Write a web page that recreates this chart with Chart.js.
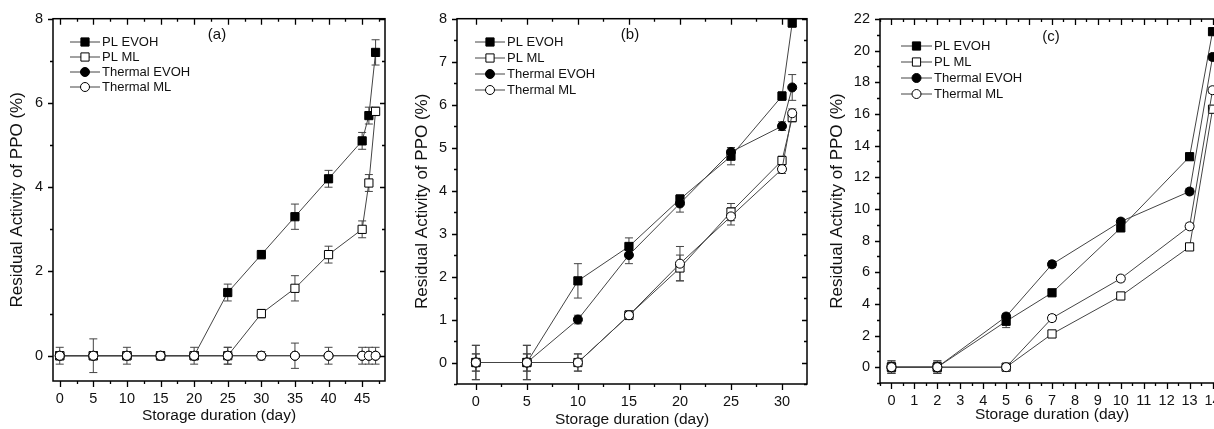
<!DOCTYPE html>
<html>
<head>
<meta charset="utf-8">
<script src="https://cdn.jsdelivr.net/npm/chart.js@4.4.0/dist/chart.umd.min.js"></script>
<style>
  html, body { margin: 0; padding: 0; background: #fff; overflow: hidden; width: 1214px; height: 429px; }
  .panel { position: absolute; top: 0; }
</style>
</head>
<body>
<div class="panel" style="left:0px"><canvas id="chartA" width="400" height="429"></canvas></div>
<div class="panel" style="left:405px"><canvas id="chartB" width="410" height="429"></canvas></div>
<div class="panel" style="left:820px"><canvas id="chartC" width="420" height="429"></canvas></div>
<script>
// ------------------- DATA -------------------
const seriesNames = ["PL EVOH", "PL ML", "Thermal EVOH", "Thermal ML"];

// panel (a)
const daysA = [0, 5, 10, 15, 20, 25, 30, 35, 40, 45, 46, 47];
const plEvohA     = [0, 0, 0, 0, 0, 1.5, 2.4, 3.3, 4.2, 5.1, 5.7, 7.2];
const plMlA       = [0, 0, 0, 0, 0, 0, 1.0, 1.6, 2.4, 3.0, 4.1, 5.8];
const thEvohA     = [0, 0, 0, 0, 0, 0, 0, 0, 0, 0, 0, 0];
const thMlA       = [0, 0, 0, 0, 0, 0, 0, 0, 0, 0, 0, 0];
const plEvohErrA  = [0, 0, 0, 0, 0, 0.2, 0.1, 0.3, 0.2, 0.2, 0.2, 0.3];
const plMlErrA    = [0, 0, 0, 0, 0, 0.2, 0.1, 0.3, 0.2, 0.2, 0.2, 0.1];
const thEvohErrA  = [0, 0, 0, 0, 0, 0, 0, 0, 0, 0, 0, 0];
const thMlErrA    = [0.2, 0.4, 0.2, 0.1, 0.2, 0.2, 0.1, 0.3, 0.2, 0.2, 0.2, 0.2];
const xTicksA = [0, 5, 10, 15, 20, 25, 30, 35, 40, 45];
const yTicksA = [0, 2, 4, 6, 8];

// panel (b)
const daysB = [0, 5, 10, 15, 20, 25, 30, 31];
const plEvohB     = [0, 0, 1.9, 2.7, 3.8, 4.8, 6.2, 7.9];
const plMlB       = [0, 0, 0, 1.1, 2.2, 3.5, 4.7, 5.7];
const thEvohB     = [0, 0, 1.0, 2.5, 3.7, 4.9, 5.5, 6.4];
const thMlB       = [0, 0, 0, 1.1, 2.3, 3.4, 4.5, 5.8];
const plEvohErrB  = [0.4, 0.4, 0.4, 0.2, 0.1, 0.2, 0.1, 0.1];
const plMlErrB    = [0.2, 0.2, 0.2, 0.1, 0.3, 0.2, 0.1, 0.1];
const thEvohErrB  = [0.2, 0.2, 0.1, 0.2, 0.2, 0.1, 0.1, 0.3];
const thMlErrB    = [0.4, 0.4, 0.2, 0.1, 0.4, 0.2, 0.1, 0.1];
const xTicksB = [0, 5, 10, 15, 20, 25, 30];
const yTicksB = [0, 1, 2, 3, 4, 5, 6, 7, 8];

// panel (c)
const daysC = [0, 2, 5, 7, 10, 13, 14];
const plEvohC     = [0, 0, 2.9, 4.7, 8.8, 13.3, 21.2];
const plMlC       = [0, 0, 0, 2.1, 4.5, 7.6, 16.3];
const thEvohC     = [0, 0, 3.2, 6.5, 9.2, 11.1, 19.6];
const thMlC       = [0, 0, 0, 3.1, 5.6, 8.9, 17.5];
const plEvohErrC  = [0.4, 0.4, 0.4, 0.2, 0.2, 0.2, 0.2];
const plMlErrC    = [0.3, 0.3, 0.2, 0.2, 0.2, 0.2, 0.2];
const thEvohErrC  = [0.3, 0.3, 0.2, 0.2, 0.2, 0.2, 0.2];
const thMlErrC    = [0.4, 0.4, 0.2, 0.2, 0.2, 0.2, 0.2];
const xTicksC = [0, 1, 2, 3, 4, 5, 6, 7, 8, 9, 10, 11, 12, 13, 14];
const yTicksC = [0, 2, 4, 6, 8, 10, 12, 14, 16, 18, 20, 22];

// ------------------- STYLE -------------------
Chart.defaults.font.family = "'Liberation Sans', Arial, sans-serif";
Chart.defaults.color = "#111";

const markerStyles = [
  { pointStyle: "rect",   radius: 5.8, fill: "#000" },
  { pointStyle: "rect",   radius: 5.8, fill: "#fff" },
  { pointStyle: "circle", radius: 4.5, fill: "#000" },
  { pointStyle: "circle", radius: 4.5, fill: "#fff" }
];
const drawOrder = [3, 2, 1, 0]; // thermal ML on top
const lineColor = "#444";

// ------------------- PLUGINS -------------------
// error bars, drawn under the markers
const errorBars = {
  id: "errorBars",
  beforeDatasetsDraw(chart) {
    const { ctx, scales: { x, y } } = chart;
    ctx.save();
    ctx.strokeStyle = "#444";
    ctx.lineWidth = 1;
    chart.data.datasets.forEach(ds => {
      ds.data.forEach((p, j) => {
        const e = ds.errors[j];
        if (!e) return;
        const px = x.getPixelForValue(p.x);
        const y1 = y.getPixelForValue(p.y + e);
        const y2 = y.getPixelForValue(p.y - e);
        ctx.beginPath();
        ctx.moveTo(px, y1); ctx.lineTo(px, y2);
        ctx.moveTo(px - 4, y1); ctx.lineTo(px + 4, y1);
        ctx.moveTo(px - 4, y2); ctx.lineTo(px + 4, y2);
        ctx.stroke();
      });
    });
    ctx.restore();
  }
};

function minorValues(ticks, min, max) {
  const step = ticks[1] - ticks[0];
  const out = [];
  for (let v = ticks[0] - step / 2; v <= max; v += step) {
    if (v >= min) out.push(v);
  }
  return out;
}

// box frame with outward ticks left/bottom and inward ticks top/right
const axisFrame = {
  id: "axisFrame",
  afterDraw(chart) {
    const { ctx, chartArea: { left, right, top, bottom }, scales: { x, y } } = chart;
    const xt = x.ticks.map(t => t.value);
    const yt = y.ticks.map(t => t.value);
    const xm = minorValues(xt, x.min, x.max);
    const ym = minorValues(yt, y.min, y.max);
    ctx.save();
    ctx.strokeStyle = "#000";
    ctx.lineWidth = 1.5;
    ctx.strokeRect(left, top, right - left, bottom - top);
    ctx.lineWidth = 1.3;
    ctx.beginPath();
    const vTick = (vals, len) => vals.forEach(v => {
      const px = Math.round(x.getPixelForValue(v)) + 0.5;
      ctx.moveTo(px, bottom); ctx.lineTo(px, bottom + len);
      ctx.moveTo(px, top); ctx.lineTo(px, top + len);
    });
    const hTick = (vals, len) => vals.forEach(v => {
      const py = Math.round(y.getPixelForValue(v)) + 0.5;
      ctx.moveTo(left, py); ctx.lineTo(left - len, py);
      ctx.moveTo(right, py); ctx.lineTo(right - len, py);
    });
    vTick(xt, 6); vTick(xm, 3);
    hTick(yt, 5); hTick(ym, 3);
    ctx.stroke();
    ctx.restore();
  }
};

// legend with line-marker-line samples and the panel letter
const sampleLegend = {
  id: "sampleLegend",
  afterDraw(chart, args, opts) {
    const { ctx } = chart;
    ctx.save();
    chart.data.datasets.forEach((ds, k) => {
      const yy = opts.y + k * opts.dy;
      ctx.strokeStyle = lineColor;
      ctx.lineWidth = 1;
      ctx.beginPath();
      ctx.moveTo(opts.x, yy); ctx.lineTo(opts.x + opts.len, yy);
      ctx.stroke();
      ctx.fillStyle = ds.pointBackgroundColor;
      ctx.strokeStyle = "#000";
      Chart.helpers.drawPoint(ctx, { pointStyle: ds.pointStyle, radius: ds.pointRadius, borderWidth: 1, rotation: 0 },
        opts.x + opts.len / 2, yy);
      ctx.fillStyle = "#111";
      ctx.font = "13px 'Liberation Sans', Arial, sans-serif";
      ctx.textBaseline = "middle";
      ctx.textAlign = "left";
      ctx.fillText(ds.label, opts.x + opts.len + 2, yy);
    });
    ctx.font = "15px 'Liberation Sans', Arial, sans-serif";
    ctx.textAlign = "center";
    ctx.textBaseline = "middle";
    ctx.fillStyle = "#111";
    ctx.fillText(opts.tag, opts.tagX, opts.tagY);
    ctx.restore();
  }
};

// ------------------- BUILD PANELS -------------------
function makePanel(id, days, series, errors, xTicks, yTicks, box, legend) {
  const datasets = series.map((vals, k) => ({
    label: seriesNames[k],
    data: days.map((d, j) => ({ x: d, y: vals[j] })),
    errors: errors[k],
    order: drawOrder[k],
    borderColor: lineColor,
    borderWidth: 1,
    tension: 0,
    pointStyle: markerStyles[k].pointStyle,
    pointRadius: markerStyles[k].radius,
    pointBackgroundColor: markerStyles[k].fill,
    pointBorderColor: "#000",
    pointBorderWidth: 1,
    pointHoverRadius: markerStyles[k].radius
  }));

  new Chart(document.getElementById(id), {
    type: "line",
    data: { datasets },
    options: {
      responsive: false,
      animation: false,
      devicePixelRatio: 1,
      layout: { padding: { top: box.top, right: box.right, left: 0, bottom: 0 } },
      plugins: {
        legend: { display: false },
        tooltip: { enabled: false },
        sampleLegend: legend
      },
      scales: {
        x: {
          type: "linear",
          min: box.xMin, max: box.xMax,
          afterBuildTicks: s => { s.ticks = xTicks.map(v => ({ value: v })); },
          afterFit: s => { s.height = box.xH; },
          grid: { display: false, drawTicks: false },
          border: { display: false },
          ticks: { font: { size: 14.5 }, padding: 9, autoSkip: false, maxRotation: 0, color: "#111" },
          title: { display: true, text: "Storage duration (day)", font: { size: 15.5 },
                   padding: { top: 0, bottom: box.xTitlePad }, color: "#111" }
        },
        y: {
          type: "linear",
          min: box.yMin, max: box.yMax,
          afterBuildTicks: s => { s.ticks = yTicks.map(v => ({ value: v })); },
          afterFit: s => { s.width = box.yW; },
          grid: { display: false, drawTicks: false },
          border: { display: false },
          ticks: { font: { size: 14.5 }, padding: 10, autoSkip: false, color: "#111" },
          title: { display: true, text: "Residual Activity of PPO (%)", font: { size: 17 },
                   padding: { top: 7.5, bottom: 0 }, color: "#111" }
        }
      }
    },
    plugins: [errorBars, axisFrame, sampleLegend]
  });
}

makePanel("chartA", daysA,
  [plEvohA, plMlA, thEvohA, thMlA],
  [plEvohErrA, plMlErrA, thEvohErrA, thMlErrA],
  xTicksA, yTicksA,
  { top: 16, right: 15, xH: 48, yW: 53, xMin: -1, xMax: 48.4, yMin: -0.6, yMax: 8, xTitlePad: 4 },
  { x: 70, y: 42, dy: 15, len: 30, tag: "(a)", tagX: 217, tagY: 35 });

makePanel("chartB", daysB,
  [plEvohB, plMlB, thEvohB, thMlB],
  [plEvohErrB, plMlErrB, thEvohErrB, thMlErrB],
  xTicksB, yTicksB,
  { top: 16, right: 8, xH: 45, yW: 52, xMin: -1.85, xMax: 32.45, yMin: -0.5, yMax: 8, xTitlePad: 0 },
  { x: 70, y: 42, dy: 16, len: 30, tag: "(b)", tagX: 225, tagY: 35 });

makePanel("chartC", daysC,
  [plEvohC, plMlC, thEvohC, thMlC],
  [plEvohErrC, plMlErrC, thEvohErrC, thMlErrC],
  xTicksC, yTicksC,
  { top: 19, right: 16, xH: 46, yW: 60, xMin: -0.5, xMax: 14.5, yMin: -1, yMax: 22, xTitlePad: 5 },
  { x: 81, y: 46, dy: 16, len: 31, tag: "(c)", tagX: 231, tagY: 37 });
</script>
</body>
</html>
